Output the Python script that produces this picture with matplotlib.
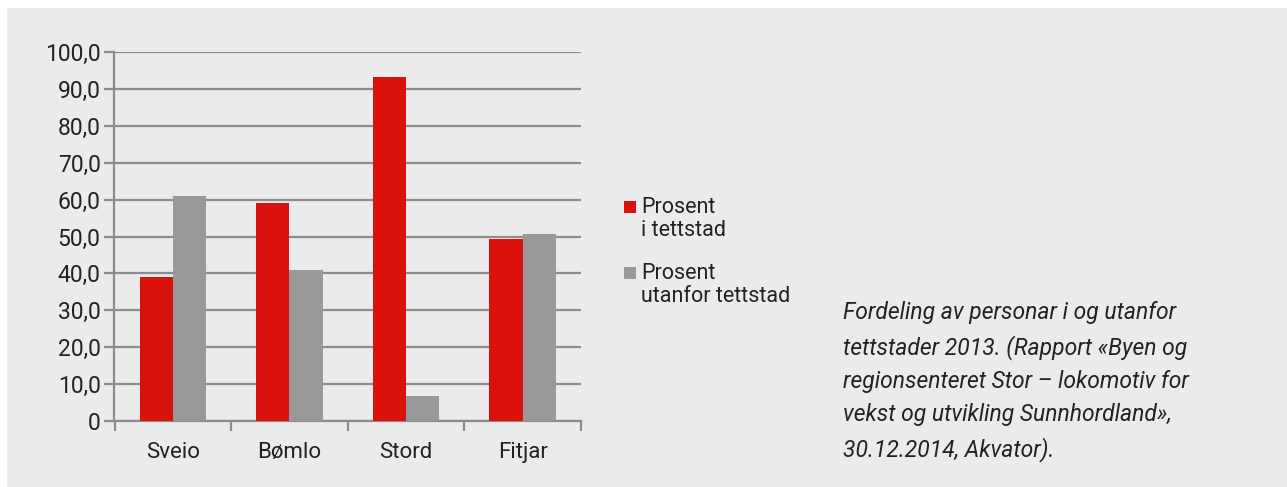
import matplotlib.pyplot as plt
from matplotlib.patches import Rectangle
import numpy as np

plt.rcParams['font.family'] = ['Roboto', 'DejaVu Sans']

kommunar = ['Sveio', 'Bømlo', 'Stord', 'Fitjar']
i_tettstad = [38.9, 59.2, 93.1, 49.4]
utanfor_tettstad = [61.1, 40.8, 6.9, 50.6]
serie_namn = ['Prosent\ni tettstad', 'Prosent\nutanfor tettstad']
y_ticks = [0, 10, 20, 30, 40, 50, 60, 70, 80, 90, 100]
y_labels = ['0', '10,0', '20,0', '30,0', '40,0', '50,0', '60,0', '70,0', '80,0', '90,0', '100,0']

raud = '#d9120b'
graa = '#999999'
bg = '#ebebeb'
linje = '#8c8c8c'
tekst = '#222222'

W, H = 1287, 487
fig = plt.figure(figsize=(W / 100, H / 100), dpi=100, facecolor='white')
# grey panel behind everything
fig.patches.append(Rectangle((7 / W, 0), 1 - 7 / W, 1 - 8 / H, transform=fig.transFigure,
                             facecolor=bg, edgecolor='none', zorder=-5))

ax = fig.add_axes([114.5 / W, 1 - 421 / H, (581 - 114.5) / W, (421 - 52) / H])
ax.set_facecolor('none')

x = np.arange(len(kommunar))
w = 0.285
ax.bar(x - w / 2, i_tettstad, w, color=raud, zorder=3)
ax.bar(x + w / 2, utanfor_tettstad, w, color=graa, zorder=3)

ax.set_xlim(-0.5, 3.5)
ax.set_ylim(0, 100)
ax.set_yticks(y_ticks)
ax.set_yticklabels(y_labels)
ax.yaxis.grid(True, color=linje, linewidth=1.6, zorder=0)
ax.set_axisbelow(True)

# category separators as ticks
ax.set_xticks(np.arange(-0.5, 4, 1))
ax.set_xticklabels([])
ax.set_xticks(x, minor=True)
ax.set_xticklabels(kommunar, minor=True)
ax.tick_params(axis='x', which='major', length=7, width=1.6, color=linje)
ax.tick_params(axis='x', which='minor', length=0, pad=15, labelsize=16, labelcolor=tekst)
ax.tick_params(axis='y', length=7, width=1.6, color=linje, labelsize=16.5, labelcolor=tekst, pad=3)

for s in ['top', 'right']:
    ax.spines[s].set_visible(False)
for s in ['left', 'bottom']:
    ax.spines[s].set_color(linje)
    ax.spines[s].set_linewidth(1.6)

# legend drawn by hand so the square sits on the first text line
for i, (namn, farge) in enumerate(zip(serie_namn, [raud, graa])):
    y0 = 201 + i * 66
    fig.patches.append(Rectangle((624 / W, 1 - (y0 + 12) / H), 12 / W, 12 / H,
                                 transform=fig.transFigure, facecolor=farge, edgecolor='none'))
    fig.text(641 / W, 1 - (y0 - 4) / H, namn, ha='left', va='top', fontsize=15.5,
             color=tekst, linespacing=1.1)

caption = ('Fordeling av personar i og utanfor\n'
           'tettstader 2013. (Rapport «Byen og\n'
           'regionsenteret Stor – lokomotiv for\n'
           'vekst og utvikling Sunnhordland»,\n'
           '30.12.2014, Akvator).')
fig.text(843 / W, 1 - 301 / H, caption, ha='left', va='top', fontsize=16.5, style='italic',
         color=tekst, linespacing=1.56)

fig.savefig('out.png', dpi=100, facecolor='white')
